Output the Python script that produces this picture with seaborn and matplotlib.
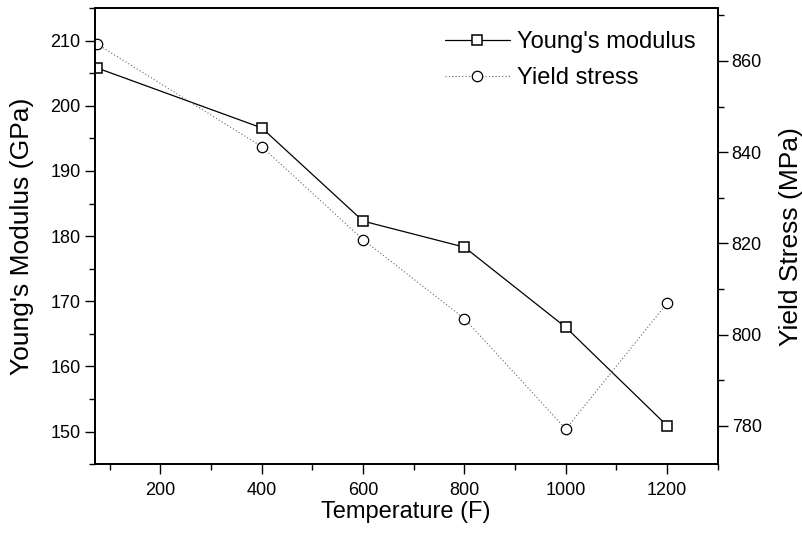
import matplotlib
matplotlib.use("Agg")
import matplotlib.pyplot as plt
import seaborn as sns
import pandas as pd
from matplotlib.ticker import MultipleLocator

temperature = [75, 400, 600, 800, 1000, 1200]
youngs_modulus = [205.8, 196.6, 182.3, 178.3, 166.0, 150.9]
yield_stress = [863.7, 841.2, 820.8, 803.5, 779.3, 806.9]

df = pd.DataFrame({"T": temperature, "E": youngs_modulus, "S": yield_stress})

sns.set_style("ticks")
plt.rcParams['font.family'] = ['Liberation Sans', 'DejaVu Sans']
plt.rcParams['text.color'] = 'black'
plt.rcParams['axes.labelcolor'] = 'black'
plt.rcParams['xtick.color'] = 'black'
plt.rcParams['ytick.color'] = 'black'

fig = plt.figure(figsize=(8.02, 5.36), dpi=100)
ax = fig.add_axes([0.118, 0.134, 0.777, 0.851])
ax2 = ax.twinx()

sns.lineplot(data=df, x="T", y="E", ax=ax, color="black", lw=0.9,
             marker="s", markersize=7, markerfacecolor="white",
             markeredgecolor="black", markeredgewidth=1.1,
             label="Young's modulus", legend=False)
sns.lineplot(data=df, x="T", y="S", ax=ax2, color="#666666", lw=0.8,
             linestyle=(0, (1, 2)), marker="o", markersize=7.5,
             markerfacecolor="white", markeredgecolor="black",
             markeredgewidth=0.9, label="Yield stress", legend=False)

ax.set_xlim(70, 1300)
ax.set_ylim(145, 215)
ax2.set_ylim(771.6, 871.6)

ax.xaxis.set_major_locator(MultipleLocator(200))
ax.xaxis.set_minor_locator(MultipleLocator(100))
ax.yaxis.set_major_locator(MultipleLocator(10))
ax.yaxis.set_minor_locator(MultipleLocator(5))
ax2.yaxis.set_major_locator(MultipleLocator(20))
ax2.yaxis.set_minor_locator(MultipleLocator(10))
ax.set_xticks([200, 400, 600, 800, 1000, 1200])

for a in (ax, ax2):
    a.tick_params(which="major", direction="out", length=7, width=1, labelsize=13, pad=3)
    a.tick_params(which="minor", direction="out", length=4, width=1)
    for s in a.spines.values():
        s.set_visible(True)
        s.set_linewidth(1.3)
        s.set_color("black")
ax.tick_params(axis="x", which="major", pad=6)

ax.set_xlabel("Temperature (F)", fontsize=17, labelpad=1)
ax.set_ylabel("Young's Modulus (GPa)", fontsize=19, labelpad=12)
ax2.set_ylabel("Yield Stress (MPa)", fontsize=19, labelpad=12)

h1, l1 = ax.get_legend_handles_labels()
h2, l2 = ax2.get_legend_handles_labels()
ax.legend(h1 + h2, l1 + l2, loc="upper right", frameon=False, fontsize=17,
          handlelength=2.75, handletextpad=0.3, borderpad=0, borderaxespad=0,
          labelspacing=0.58, bbox_to_anchor=(0.867, 0.942),
          bbox_transform=fig.transFigure)

fig.savefig("out.png", dpi=100)
